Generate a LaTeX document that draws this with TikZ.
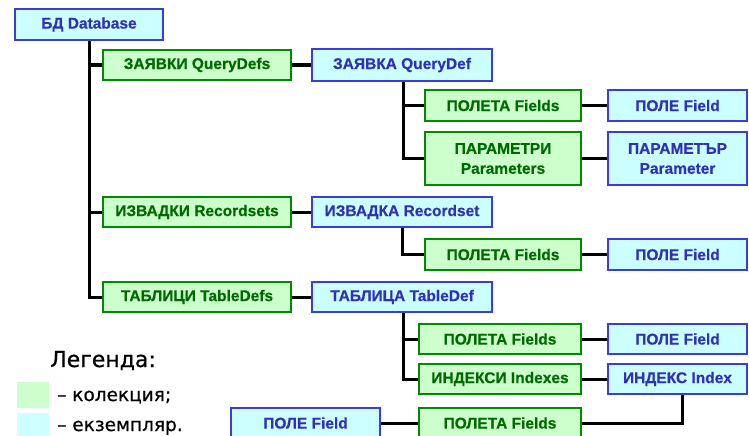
\documentclass[tikz,border=0pt]{standalone}
\usepackage{fontspec}
\setmainfont{Liberation Sans}
\newfontfamily\legfont[FakeBold=0.6]{DejaVu Sans}
\newfontfamily\boxfont[FakeBold=0.5]{Liberation Sans Bold}
\usetikzlibrary{backgrounds}
\definecolor{gfill}{HTML}{CCFFCC}
\definecolor{gline}{HTML}{008A00}
\definecolor{gtext}{HTML}{006A00}
\definecolor{bfill}{HTML}{CCFFFF}
\definecolor{bline}{HTML}{3C3CD8}
\definecolor{btext}{HTML}{3030B8}
\begin{document}
\begin{tikzpicture}[x=1pt,y=-1pt,
  box/.style={draw, line width=2pt, inner sep=0pt, align=center,
    font=\boxfont\fontsize{15.5}{20}\selectfont},
  coll/.style={box, fill=gfill, draw=gline, text=gtext},
  inst/.style={box, fill=bfill, draw=bline, text=btext},
  conn/.style={line width=3pt, black},
  legtext/.style={anchor=base west, inner sep=0pt, text=black},
]
\useasboundingbox (0,0) rectangle (749,436);

\node[inst, minimum width=148pt, minimum height=31pt] (db) at (89,24.5) {БД Database};

\node[coll, minimum width=188pt, minimum height=30pt] (qdefs) at (197,65) {ЗАЯВКИ QueryDefs};
\node[inst, minimum width=180pt, minimum height=31pt] (qdef) at (402,65) {ЗАЯВКА QueryDef};
\node[coll, minimum width=156pt, minimum height=31pt] (f1) at (503,105.5) {ПОЛЕТА Fields};
\node[inst, minimum width=139pt, minimum height=31pt] (fld1) at (677.5,105.5) {ПОЛЕ Field};
\node[coll, minimum width=156pt, minimum height=53pt] (params) at (503,158.5) {ПАРАМЕТРИ\\Parameters};
\node[inst, minimum width=139pt, minimum height=53pt] (param) at (677.5,158.5) {ПАРАМЕТЪР\\Parameter};

\node[coll, minimum width=188pt, minimum height=30pt] (rsets) at (197,212) {ИЗВАДКИ Recordsets};
\node[inst, minimum width=180pt, minimum height=30pt] (rset) at (402,212) {ИЗВАДКА Recordset};
\node[coll, minimum width=156pt, minimum height=31pt] (f2) at (503,254.5) {ПОЛЕТА Fields};
\node[inst, minimum width=139pt, minimum height=31pt] (fld2) at (677.5,254.5) {ПОЛЕ Field};

\node[coll, minimum width=188pt, minimum height=30pt] (tdefs) at (197,297) {ТАБЛИЦИ TableDefs};
\node[inst, minimum width=180pt, minimum height=30pt] (tdef) at (402,297) {ТАБЛИЦА TableDef};
\node[coll, minimum width=162pt, minimum height=30pt] (f3) at (500,339) {ПОЛЕТА Fields};
\node[inst, minimum width=139pt, minimum height=30pt] (fld3) at (677.5,339) {ПОЛЕ Field};
\node[coll, minimum width=162pt, minimum height=30pt] (idxs) at (500,379) {ИНДЕКСИ Indexes};
\node[inst, minimum width=139pt, minimum height=30pt] (idx) at (677.5,379) {ИНДЕКС Index};
\node[coll, minimum width=162pt, minimum height=30pt] (f4) at (500,423) {ПОЛЕТА Fields};
\node[inst, minimum width=149pt, minimum height=30pt] (fld4) at (305.5,423) {ПОЛЕ Field};

\begin{scope}[on background layer]
  \draw[conn] (db.south) |- (qdefs.west);
  \draw[conn] (db.south) |- (rsets.west);
  \draw[conn] (db.south) |- (tdefs.west);
  \draw[conn] (qdefs.east) -- (qdef.west);
  \draw[conn] (rsets.east) -- (rset.west);
  \draw[conn] (tdefs.east) -- (tdef.west);
  \draw[conn] ([xshift=1pt]qdef.south) |- (f1.west);
  \draw[conn] ([xshift=1pt]qdef.south) |- (params.west);
  \draw[conn] (f1.east) -- (fld1.west);
  \draw[conn] (params.east) -- (param.west);
  \draw[conn] (rset.south) |- (f2.west);
  \draw[conn] (f2.east) -- (fld2.west);
  \draw[conn] ([xshift=1pt]tdef.south) |- (f3.west);
  \draw[conn] ([xshift=1pt]tdef.south) |- (idxs.west);
  \draw[conn] (f3.east) -- (fld3.west);
  \draw[conn] (idxs.east) -- (idx.west);
  \draw[conn] ([xshift=4.5pt]idx.south) |- (f4.east);
  \draw[conn] (fld4.east) -- (f4.west);
\end{scope}

\node[legtext, font=\legfont\fontsize{22}{26}\selectfont] (leg) at (50,367) {Легенда:};
\node[fill=gfill, inner sep=0pt, minimum width=32pt, minimum height=26pt] (sw1) at (33,395) {};
\node[fill=bfill, inner sep=0pt, minimum width=32pt, minimum height=26pt] (sw2) at (33,426) {};
\node[legtext, font=\legfont\fontsize{18.5}{22}\selectfont] (l1) at (57,401) {– колекция;};
\node[legtext, font=\legfont\fontsize{18.5}{22}\selectfont] (l2) at (57,431) {– екземпляр.};
\end{tikzpicture}
\end{document}
